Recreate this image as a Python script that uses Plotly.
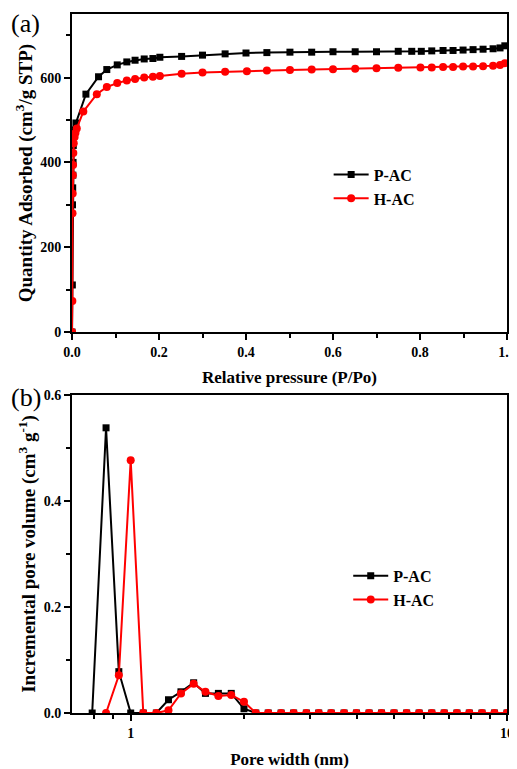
import plotly.graph_objects as go

# (a) N2 adsorption isotherms
pac_p = [0.0, 0.0008, 0.0012, 0.0016, 0.002, 0.0025, 0.003, 0.004, 0.006, 0.009,
         0.032, 0.061, 0.080, 0.104, 0.126, 0.145, 0.166, 0.186, 0.202, 0.252,
         0.300, 0.352, 0.400, 0.448, 0.501, 0.551, 0.600, 0.651, 0.700, 0.750,
         0.781, 0.803, 0.827, 0.853, 0.876, 0.899, 0.922, 0.945, 0.968, 0.984, 0.995]
pac_q = [0, 111, 300, 340, 370, 400, 440, 465, 477, 493,
         561, 602, 619, 630, 637, 641, 644, 645, 648, 650,
         653, 656, 658, 659, 660, 660, 661, 661, 661, 662,
         662, 662, 663, 664, 664, 665, 666, 667, 668, 670, 675]

hac_p = [0.0, 0.0008, 0.0012, 0.0016, 0.002, 0.0025, 0.003, 0.004, 0.006, 0.008, 0.011,
         0.026, 0.057, 0.080, 0.104, 0.126, 0.145, 0.166, 0.186, 0.202, 0.252,
         0.300, 0.352, 0.402, 0.448, 0.501, 0.551, 0.600, 0.651, 0.700, 0.750,
         0.801, 0.827, 0.853, 0.876, 0.899, 0.922, 0.945, 0.968, 0.984, 0.995]
hac_q = [0, 73, 280, 327, 370, 394, 422, 445, 460, 470, 480,
         520, 561, 578, 587, 593, 597, 600, 602, 604, 609,
         612, 614, 615, 617, 618, 619, 620, 621, 622, 623,
         624, 624, 625, 625, 626, 626, 627, 628, 630, 634]

# (b) pore size distribution
pore_w = [0.79, 0.86, 0.93, 1.00, 1.08, 1.17, 1.26, 1.36, 1.47, 1.58, 1.71, 1.85,
          2.00, 2.15, 2.32, 2.51, 2.71, 2.93, 3.16, 3.41, 3.69, 3.98, 4.30, 4.64,
          5.01, 5.41, 5.84, 6.31, 6.81, 7.36, 7.94, 8.58, 9.26, 10.0]
pac_v = [0, 0.538, 0.078, 0, 0, 0, 0.025, 0.040, 0.057, 0.037, 0.037, 0.037,
         0.008, 0, 0, 0, 0, 0, 0, 0, 0, 0, 0, 0,
         0, 0, 0, 0, 0, 0, 0, 0, 0, 0]
hac_v = [None, 0, 0.071, 0.477, 0, 0, 0.005, 0.037, 0.055, 0.040, 0.032, 0.034,
         0.021, 0, 0, 0, 0, 0, 0, 0, 0, 0, 0, 0,
         0, 0, 0, 0, 0, 0, 0, 0, 0, 0]

serif = "Liberation Serif"
black = "#000000"
red = "#ff0000"

fig = go.Figure()
fig.add_trace(go.Scatter(x=pac_p, y=pac_q, name="P-AC", mode="lines+markers",
                         line=dict(color=black, width=2),
                         marker=dict(symbol="square", size=7, color=black),
                         xaxis="x", yaxis="y", legend="legend"))
fig.add_trace(go.Scatter(x=hac_p, y=hac_q, name="H-AC", mode="lines+markers",
                         line=dict(color=red, width=2),
                         marker=dict(symbol="circle", size=8, color=red),
                         xaxis="x", yaxis="y", legend="legend"))
fig.add_trace(go.Scatter(x=pore_w, y=pac_v, name="P-AC", mode="lines+markers",
                         line=dict(color=black, width=2),
                         marker=dict(symbol="square", size=7, color=black),
                         xaxis="x2", yaxis="y2", legend="legend2"))
fig.add_trace(go.Scatter(x=pore_w, y=hac_v, name="H-AC", mode="lines+markers",
                         line=dict(color=red, width=2),
                         marker=dict(symbol="circle", size=8, color=red),
                         xaxis="x2", yaxis="y2", legend="legend2"))

axis_style = dict(showline=True, linecolor=black, linewidth=2, mirror=True,
                  ticks="outside", ticklen=6, tickwidth=1.5, tickcolor=black,
                  showgrid=False, zeroline=False, automargin=False,
                  tickfont=dict(family=serif, size=14, color=black, weight="bold"))
minor_style = dict(ticks="outside", ticklen=4, tickwidth=1.5, tickcolor=black)
xtitle_font = dict(family=serif, size=17, color=black)
ytitle_font = dict(family=serif, size=19, color=black)
legend_font = dict(family=serif, size=16, color=black, weight="bold")

# the page body adds an 8px offset, so the figure is 8px smaller than the window
fig.update_layout(
    width=509, height=761,
    margin=dict(l=64, r=10, t=6, b=56),
    paper_bgcolor="white", plot_bgcolor="white",
    font=dict(family=serif, color=black),
    xaxis=dict(axis_style, domain=[0, 1], anchor="y", range=[0, 1.0],
               tickvals=[0, 0.2, 0.4, 0.6, 0.8, 1.0],
               ticktext=["0.0", "0.2", "0.4", "0.6", "0.8", "1.0"],
               minor=dict(minor_style, dtick=0.1, tick0=0),
               title=dict(text="<b>Relative pressure (P/Po)</b>", font=xtitle_font, standoff=12)),
    yaxis=dict(axis_style, domain=[0.545, 1], anchor="x", range=[0, 750],
               tickvals=[0, 200, 400, 600],
               minor=dict(minor_style, dtick=100, tick0=0),
               title=dict(text="<b>Quantity Adsorbed (cm<sup>3</sup>/g STP)</b>",
                          font=ytitle_font, standoff=3)),
    xaxis2=dict(axis_style, domain=[0, 1], anchor="y2", type="log",
                range=[-0.156, 1.0], tickvals=[1, 10], ticktext=["1", "10"],
                minor=dict(minor_style, tickvals=[0.8, 0.9, 2, 3, 4, 5, 6, 7, 8, 9]),
                title=dict(text="<b>Pore width (nm)</b>", font=xtitle_font, standoff=16)),
    yaxis2=dict(axis_style, domain=[0, 0.455], anchor="x2", range=[0, 0.6],
                tickvals=[0, 0.2, 0.4, 0.6], ticktext=["0.0", "0.2", "0.4", "0.6"],
                minor=dict(minor_style, dtick=0.1, tick0=0),
                title=dict(text="<b>Incremental pore volume (cm<sup>3</sup> g<sup>-1</sup>)</b>",
                           font=ytitle_font, standoff=3)),
    legend=dict(x=0.59, y=0.753, xref="paper", yref="paper", xanchor="left", yanchor="middle",
                bgcolor="rgba(0,0,0,0)", font=legend_font, itemwidth=35, tracegroupgap=0),
    legend2=dict(x=0.635, y=0.179, xref="paper", yref="paper", xanchor="left", yanchor="middle",
                 bgcolor="rgba(0,0,0,0)", font=legend_font, itemwidth=35, tracegroupgap=0),
    annotations=[
        dict(text="(a)", x=-0.144, y=0.987, xref="paper", yref="paper", showarrow=False,
             xanchor="left", yanchor="middle", font=dict(family=serif, size=26, color=black)),
        dict(text="(b)", x=-0.144, y=0.451, xref="paper", yref="paper", showarrow=False,
             xanchor="left", yanchor="middle", font=dict(family=serif, size=26, color=black)),
    ],
)

fig.write_html("out.html")
